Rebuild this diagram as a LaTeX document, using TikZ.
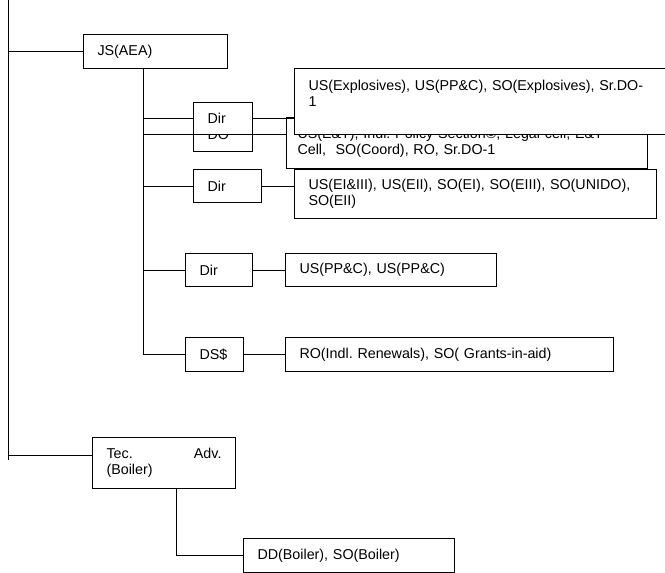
\documentclass[tikz,border=0pt]{standalone}
\usepackage{fontspec}
\setmainfont{Liberation Sans}
\frenchspacing
\usetikzlibrary{positioning}
\begin{document}
\begin{tikzpicture}[x=1bp,y=-1bp,line width=1bp,
  box/.style={draw,fill=white,anchor=north west,align=left,inner xsep=14bp,inner ysep=0pt,
    font=\fontsize{14.3bp}{16bp}\selectfont}]
\useasboundingbox (0,0) rectangle (665,573);
\node[box,minimum width=144bp,minimum height=34bp,text width=116bp] (js) at (83,34) {JS(AEA)};
\node[box,minimum width=59bp,minimum height=33bp,text width=31bp] (do) at (193,118) {DO};
\node[box,minimum width=59bp,minimum height=32bp,text width=31bp] (dir1) at (193,102) {Dir};
\node[box,inner xsep=11bp,minimum width=361bp,minimum height=51bp,text width=339bp] (doc) at (286,117)
  {US(E\&T), Indl. Policy Section©, Legal cell, E\&T\\Cell,\ \ SO(Coord), RO, Sr.DO-1};
\node[box,minimum width=374bp,minimum height=66bp,text width=346bp] (expl) at (294,68)
  {US(Explosives), US(PP\&C), SO(Explosives), Sr.DO-\\1\\\mbox{}};
\node[box,minimum width=68bp,minimum height=33bp,text width=40bp] (dir2) at (193,169) {Dir};
\node[box,minimum width=362bp,minimum height=49bp,text width=334bp] (ei) at (294,169)
  {US(EI\&III), US(EII), SO(EI), SO(EIII), SO(UNIDO),\\SO(EII)};
\node[box,minimum width=67bp,minimum height=33bp,text width=39bp] (dir3) at (185,253) {Dir};
\node[box,minimum width=211bp,minimum height=33bp,text width=183bp] (pp) at (285,253) {US(PP\&C), US(PP\&C)};
\node[box,minimum width=58bp,minimum height=34bp,text width=30bp] (ds) at (185,337) {DS\$};
\node[box,minimum width=328bp,minimum height=34bp,text width=300bp] (ro) at (285,337)
  {RO(Indl. Renewals), SO( Grants-in-aid)};
\node[box,minimum width=143bp,minimum height=51bp,text width=115bp] (tec) at (92,437)
  {Tec.\hfill Adv.\\(Boiler)};
\node[box,minimum width=211bp,minimum height=34bp,text width=183bp] (dd) at (243,538)
  {DD(Boiler), SO(Boiler)};
\coordinate (top) at (8,0);
\coordinate (bot) at (8,460);
\coordinate (tecin) at (8,455);
\coordinate (jsdrop) at (143,68);
\coordinate (tecdrop) at (176,488);
\draw (top) -- (bot);
\draw (top |- js.west) -- (js.west);
\draw (tecin) -- (tecin -| tec.west);
\draw (jsdrop) -- (jsdrop |- ds.west);
\foreach \n in {dir1,do,dir2,dir3,ds}
  \draw (jsdrop |- \n.west) -- (\n.west);
\draw (dir1.east) -- (dir1.east -| expl.west);
\draw (do.east) -- (do.east -| doc.west);
\draw (dir2.east) -- (dir2.east -| ei.west);
\draw (dir3.east) -- (pp.west);
\draw (ds.east) -- (ro.west);
\draw (tecdrop) |- (dd.west);
\end{tikzpicture}
\end{document}
